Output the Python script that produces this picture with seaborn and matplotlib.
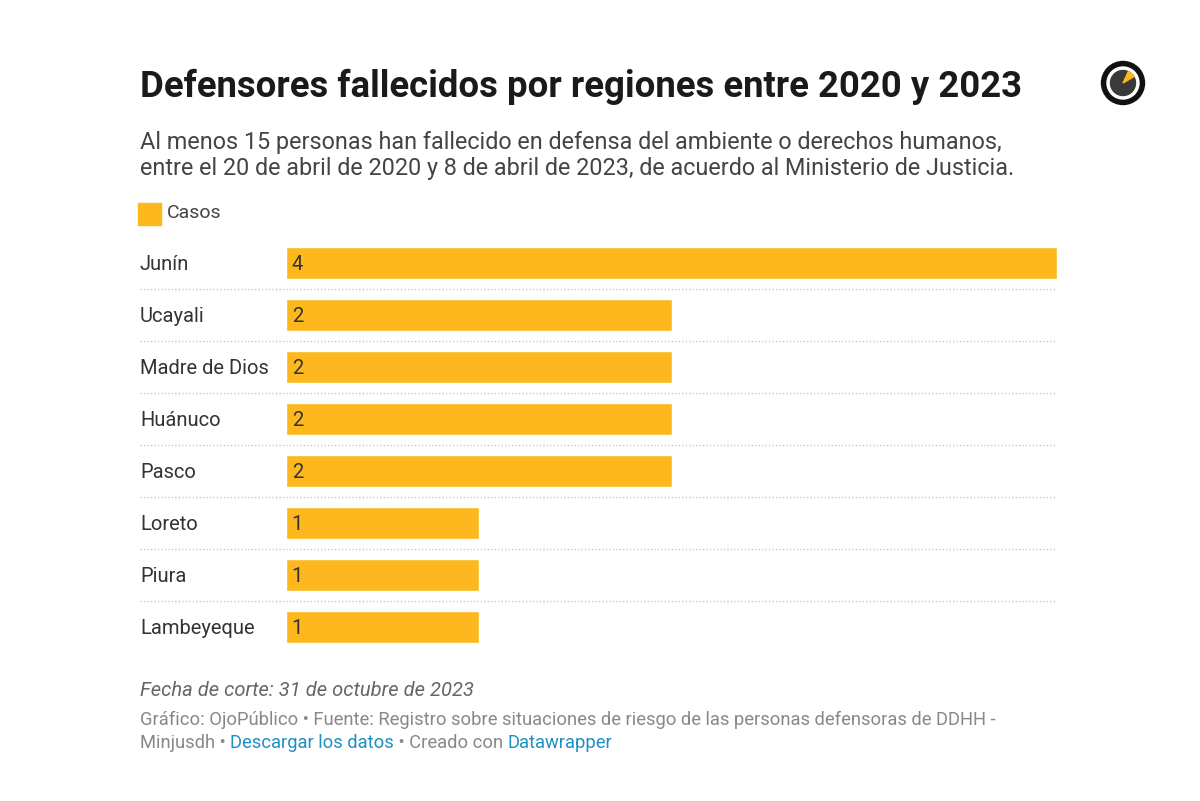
import numpy as np
import pandas as pd
import matplotlib.pyplot as plt
import matplotlib.transforms as mtransforms
from matplotlib.patches import Circle, Wedge
import seaborn as sns

# -------------------
# Data
regiones = ["Junín", "Ucayali", "Madre de Dios", "Huánuco", "Pasco",
            "Loreto", "Piura", "Lambeyeque"]
casos = [4, 2, 2, 2, 2, 1, 1, 1]

df = pd.DataFrame({"region": regiones, "casos": casos})

BAR = "#fdb81e"
W, H = 1200, 801

sns.set_theme(style="white")
plt.rcParams['font.family'] = ['Roboto', 'DejaVu Sans']

fig = plt.figure(figsize=(W / 100, H / 100), dpi=100)
fig.patch.set_facecolor("white")

# axes in pixel layout
x0, x1 = 286, 1057
y_top, y_bot = 237, 653
ax = fig.add_axes([x0 / W, 1 - y_bot / H, (x1 - x0) / W, (y_bot - y_top) / H])

sns.barplot(data=df, y="region", x="casos", color=BAR, orient="h",
            width=0.63, saturation=1, ax=ax)
ax.set_xlim(0, 4)
ax.set_ylim(len(regiones) - 0.5, -0.5)
ax.set_xticks([])
ax.set_yticks([])
ax.set_xlabel("")
ax.set_ylabel("")
for s in ax.spines.values():
    s.set_visible(False)

# labels + values + separators
blend = mtransforms.blended_transform_factory(fig.transFigure, ax.transData)
for i, (r, v) in enumerate(zip(regiones, casos)):
    ax.text(140 / W, i + 0.03, r, transform=blend, ha="left", va="center",
            fontsize=14.5, color="#333333")
    ax.text(0.03, i + 0.03, str(v), ha="left", va="center", fontsize=14.5, color="#333333")
for i in range(len(regiones) - 1):
    ax.plot([140 / W, x1 / W], [i + 0.5, i + 0.5], transform=blend,
            color="#c8c8c8", lw=1, ls=(0, (1, 1.5)), clip_on=False)

# -------------------
# Title, subtitle, legend
fig.text(140 / W, 1 - 87 / H, "Defensores fallecidos por regiones entre 2020 y 2023",
         fontsize=26.3, fontweight="bold", color="#1a1a1a", va="center", ha="left")
fig.text(140 / W, 1 - 142 / H,
         "Al menos 15 personas han fallecido en defensa del ambiente o derechos humanos,",
         fontsize=16.85, color="#444444", va="center", ha="left")
fig.text(140 / W, 1 - 168 / H,
         "entre el 20 de abril de 2020 y 8 de abril de 2023, de acuerdo al Ministerio de Justicia.",
         fontsize=16.85, color="#444444", va="center", ha="left")

fig.patches.append(plt.Rectangle((138 / W, 1 - 225 / H), 23 / W, 22 / H,
                                 transform=fig.transFigure, color=BAR))
fig.text(167 / W, 1 - 213 / H, "Casos", fontsize=14, color="#444444",
         va="center", ha="left")

# -------------------
# Footer
fig.text(140 / W, 1 - 690 / H, "Fecha de corte: 31 de octubre de 2023",
         fontsize=14.5, style="italic", color="#666666", va="center", ha="left")
fig.text(140 / W, 1 - 720 / H,
         "Gráfico: OjoPúblico • Fuente: Registro sobre situaciones de riesgo de las personas defensoras de DDHH -",
         fontsize=13.2, color="#888888", va="center", ha="left")

renderer = fig.canvas.get_renderer()
xpos = 140
for txt, col in [("Minjusdh • ", "#888888"), ("Descargar los datos", "#1d8fc4"),
                 (" • Creado con ", "#888888"), ("Datawrapper", "#1d8fc4")]:
    t = fig.text(xpos / W, 1 - 743 / H, txt, fontsize=13.2, color=col,
                 va="center", ha="left")
    xpos += t.get_window_extent(renderer).width

# -------------------
# Logo
lax = fig.add_axes([(1123 - 25) / W, 1 - (83 + 25) / H, 50 / W, 50 / H])
lax.set_xlim(-1, 1)
lax.set_ylim(-1, 1)
lax.set_aspect("equal")
lax.axis("off")
lax.add_patch(Circle((0, 0), 0.86, color="#111111"))
lax.add_patch(Circle((0, 0), 0.64, color="white"))
lax.add_patch(Circle((0, 0), 0.50, color="#3a3a3a"))
lax.add_patch(Wedge((0, 0), 0.50, 30, 65, color=BAR))

fig.savefig("out.png", dpi=100, facecolor="white")
